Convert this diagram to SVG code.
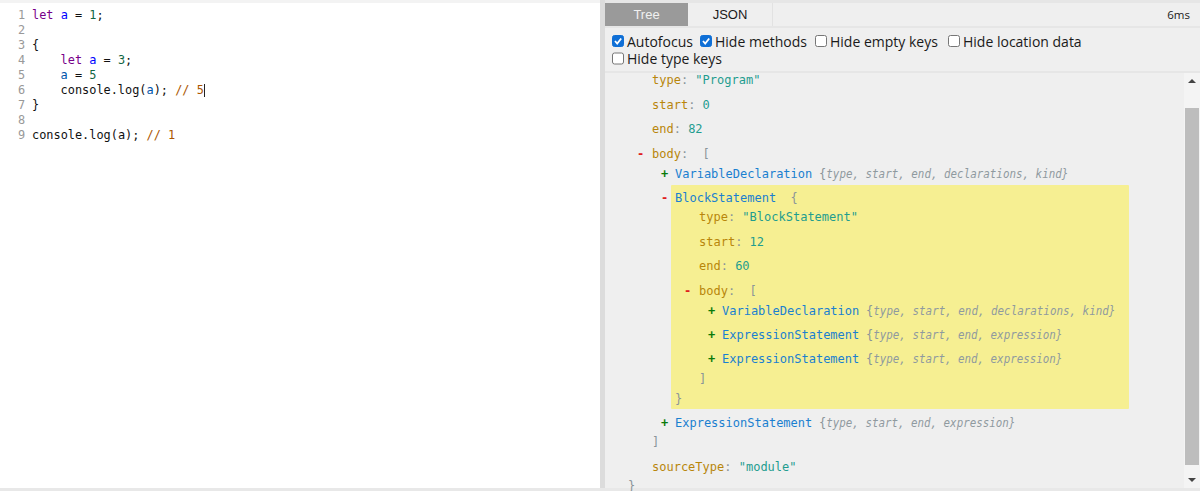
<svg xmlns="http://www.w3.org/2000/svg" width="1200" height="491" viewBox="0 0 1200 491">
<style>
text{white-space:pre}
.m{font-family:"DejaVu Sans Mono","Liberation Mono",monospace;font-size:12px}
.e{font-size:11.900px}
.u{font-family:"Open Sans","Noto Sans",sans-serif;font-size:14px;fill:#1a1a1a}
.tab{font-family:"Liberation Sans",Arial,sans-serif;font-size:13px;fill:#1a1a1a}
.n{fill:#999}.k{fill:#708}.v{fill:#05a}.w{fill:#00f}.d{fill:#164}.c{fill:#a50}.b{fill:#111}
.p{fill:#b8860b}.s{fill:#1f9d8f}.t{fill:#1a80d0}.g{fill:#8a9499}.i{font-style:italic;fill:#8f9a9f}
.mi{fill:#e0201c;font-weight:bold}.pl{fill:#0a7a0a;font-weight:bold}
.cb{fill:#fff;stroke:#767676;stroke-width:1}
.cc{fill:#0f6fd6;stroke:#0f6fd6}
.tick{fill:none;stroke:#fff;stroke-width:1.800}
</style>
<rect width="1200" height="491" fill="#fff"/>
<g id="editor">
<rect x="0" y="0" width="600" height="3" fill="#f3f3f3"/>
<g class="m e">
<text x="18" y="19" class="n">1</text><text x="32" y="19"><tspan class="k">let</tspan><tspan class="b"> </tspan><tspan class="w">a</tspan><tspan class="b"> = </tspan><tspan class="d">1</tspan><tspan class="b">;</tspan></text>
<text x="18" y="34" class="n">2</text>
<text x="18" y="49" class="n">3</text><text x="32" y="49" class="b">{</text>
<text x="18" y="64" class="n">4</text><text x="60.600" y="64"><tspan class="k">let</tspan><tspan class="b"> </tspan><tspan class="w">a</tspan><tspan class="b"> = </tspan><tspan class="d">3</tspan><tspan class="b">;</tspan></text>
<text x="18" y="79" class="n">5</text><text x="60.600" y="79"><tspan class="v">a</tspan><tspan class="b"> = </tspan><tspan class="d">5</tspan></text>
<text x="18" y="94" class="n">6</text><text x="60.600" y="94"><tspan class="b">console.log(</tspan><tspan class="v">a</tspan><tspan class="b">); </tspan><tspan class="c">// 5</tspan></text>
<text x="18" y="109" class="n">7</text><text x="32" y="109" class="b">}</text>
<text x="18" y="124" class="n">8</text>
<text x="18" y="139" class="n">9</text><text x="32" y="139"><tspan class="b">console.log(a); </tspan><tspan class="c">// 1</tspan></text>
</g>
<rect x="204" y="84" width="1" height="13" fill="#222"/>
</g>
<g id="panel">
<rect x="600" y="0" width="600" height="491" fill="#efefef"/>
<rect x="600" y="0" width="5" height="491" fill="#dcdcdc"/>
<rect x="605" y="0" width="595" height="3" fill="#e6e6e6"/>
<rect x="605" y="26" width="595" height="2" fill="#e6e6e6"/>
<rect x="605" y="71" width="595" height="2" fill="#e6e6e6"/>
<rect x="0" y="488" width="1200" height="3" fill="#e8e8e8"/>
</g>
<g id="tabs">
<rect x="605" y="3" width="83" height="23" fill="#9a9a9a"/>
<text x="646.500" y="19" text-anchor="middle" class="tab" style="fill:#f0f0f0">Tree</text>
<text x="730" y="19" text-anchor="middle" class="tab">JSON</text>
<rect x="772" y="3" width="1" height="23" fill="#e2e2e2"/>
<text x="1190" y="19" text-anchor="end" class="u" style="font-size:11.500px">6ms</text>
</g>
<g id="options">
<rect x="612.500" y="35.500" width="11" height="11" rx="2" class="cc"/><path d="M615 41l2.200 2.500 4-5" class="tick"/>
<text x="627" y="47" class="u">Autofocus</text>
<rect x="700.500" y="35.500" width="11" height="11" rx="2" class="cc"/><path d="M703 41l2.200 2.500 4-5" class="tick"/>
<text x="715" y="47" class="u">Hide methods</text>
<rect x="815.500" y="35.500" width="11" height="11" rx="2" class="cb"/>
<text x="830" y="47" class="u">Hide empty keys</text>
<rect x="948.500" y="35.500" width="11" height="11" rx="2" class="cb"/>
<text x="963" y="47" class="u">Hide location data</text>
<rect x="612.500" y="53" width="11" height="11" rx="2" class="cb"/>
<text x="627" y="64" class="u">Hide type keys</text>
</g>
<g id="scrollbar">
<rect x="1184" y="73" width="16" height="415" fill="#f4f4f4"/>
<rect x="1185" y="108" width="14" height="357" fill="#bdbdbd"/>
<path d="M1188 83l4-4 4 4z" fill="#444"/>
<path d="M1188 478l4 4 4-4z" fill="#444"/>
</g>
<g id="tree" class="m">
<rect x="671" y="185" width="458" height="224" rx="1" fill="#f6ef92"/>
<text x="652" y="84"><tspan class="p">type</tspan><tspan class="g">: </tspan><tspan class="s">"Program"</tspan></text>
<text x="652" y="109"><tspan class="p">start</tspan><tspan class="g">: </tspan><tspan class="s">0</tspan></text>
<text x="652" y="133"><tspan class="p">end</tspan><tspan class="g">: </tspan><tspan class="s">82</tspan></text>
<text x="637" y="158" class="mi">-</text>
<text x="652" y="158"><tspan class="p">body</tspan><tspan class="g">:  [</tspan></text>
<text x="661" y="178" class="pl">+</text>
<text x="675" y="178" class="t">VariableDeclaration</text><text x="819" y="178" class="g">{</text><text x="826.300" y="178" class="i" textLength="242" lengthAdjust="spacingAndGlyphs">type, start, end, declarations, kind}</text>
<text x="661" y="202" class="mi">-</text>
<text x="675" y="202"><tspan class="t">BlockStatement</tspan><tspan class="g">  {</tspan></text>
<text x="699" y="221"><tspan class="p">type</tspan><tspan class="g">: </tspan><tspan class="s">"BlockStatement"</tspan></text>
<text x="699" y="246"><tspan class="p">start</tspan><tspan class="g">: </tspan><tspan class="s">12</tspan></text>
<text x="699" y="270"><tspan class="p">end</tspan><tspan class="g">: </tspan><tspan class="s">60</tspan></text>
<text x="684" y="295" class="mi">-</text>
<text x="699" y="295"><tspan class="p">body</tspan><tspan class="g">:  [</tspan></text>
<text x="708" y="315" class="pl">+</text>
<text x="722" y="315" class="t">VariableDeclaration</text><text x="866" y="315" class="g">{</text><text x="873.300" y="315" class="i" textLength="242" lengthAdjust="spacingAndGlyphs">type, start, end, declarations, kind}</text>
<text x="708" y="339" class="pl">+</text>
<text x="722" y="339" class="t">ExpressionStatement</text><text x="866" y="339" class="g">{</text><text x="873.300" y="339" class="i" textLength="189" lengthAdjust="spacingAndGlyphs">type, start, end, expression}</text>
<text x="708" y="363" class="pl">+</text>
<text x="722" y="363" class="t">ExpressionStatement</text><text x="866" y="363" class="g">{</text><text x="873.300" y="363" class="i" textLength="189" lengthAdjust="spacingAndGlyphs">type, start, end, expression}</text>
<text x="699" y="383" class="g">]</text>
<text x="675" y="403" class="g">}</text>
<text x="661" y="427" class="pl">+</text>
<text x="675" y="427" class="t">ExpressionStatement</text><text x="819" y="427" class="g">{</text><text x="826.300" y="427" class="i" textLength="189" lengthAdjust="spacingAndGlyphs">type, start, end, expression}</text>
<text x="652" y="446" class="g">]</text>
<text x="652" y="471"><tspan class="p">sourceType</tspan><tspan class="g">: </tspan><tspan class="s">"module"</tspan></text>
<text x="628" y="490" class="g">}</text>
</g>
</svg>
